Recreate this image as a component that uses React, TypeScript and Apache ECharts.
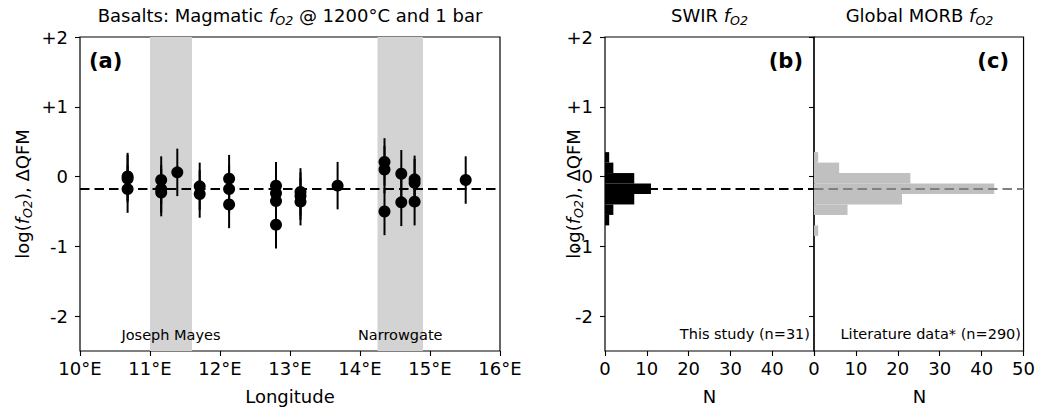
import React, { useEffect, useRef } from "react";
import * as echarts from "echarts";

// ---- data ----
const LON = [10.68, 10.68, 10.68, 11.16, 11.16, 11.16, 11.39, 11.71, 11.71, 12.13, 12.13, 12.13, 12.8, 12.8, 12.8, 12.8, 13.15, 13.15, 13.15, 13.68, 14.35, 14.35, 14.35, 14.59, 14.59, 14.78, 14.78, 14.78, 15.51];
const DQFM = [0.0, -0.03, -0.18, -0.05, -0.18, -0.23, 0.06, -0.14, -0.25, -0.03, -0.18, -0.4, -0.13, -0.24, -0.35, -0.69, -0.22, -0.28, -0.36, -0.13, 0.21, 0.1, -0.5, 0.04, -0.37, -0.04, -0.09, -0.36, -0.05];
const ERR = 0.34;
const MEAN = -0.18;
const BANDS = [
  { name: "Joseph Mayes", from: 11.0, to: 11.6 },
  { name: "Narrowgate", from: 14.25, to: 14.9 },
];
const BIN_EDGES = [-0.85, -0.7, -0.55, -0.4, -0.25, -0.1, 0.05, 0.2, 0.35];
const SWIR_COUNTS = [0, 1, 2, 7, 11, 7, 2, 1];
const MORB_COUNTS = [1, 0, 8, 21, 43, 23, 6, 1];
const Y_TICKS = [-2, -1, 0, 1, 2];
const Y_TICK_LABELS = ["-2", "-1", "0", "+1", "+2"];
const LON_TICKS = [10, 11, 12, 13, 14, 15, 16];
const N_TICKS = [0, 10, 20, 30, 40, 50];

const FONT = "DejaVu Sans";
const FS = 18;
const FS_SMALL = 14.5;

const richF = {
  i: { fontStyle: "italic", fontSize: FS, fontFamily: FONT, color: "#000", lineHeight: 22, verticalAlign: "middle" },
  s: { fontStyle: "italic", fontSize: 12.6, fontFamily: FONT, color: "#000", lineHeight: 12, verticalAlign: "bottom", padding: [0, 0, -1, 0] },
  n: { fontSize: FS, fontFamily: FONT, color: "#000", lineHeight: 22, verticalAlign: "middle" },
};

export default function App() {
  const ref = useRef<HTMLDivElement>(null);
  useEffect(() => {
    const chart = echarts.init(ref.current!, null, { renderer: "svg" });
    const bins = (counts: number[]) =>
      counts.map((c, k) => [BIN_EDGES[k], BIN_EDGES[k + 1], c]);
    const pts = LON.map((x, k) => [x, DQFM[k]]);

    const yAxisBase = (gridIndex: number, showLabels: boolean) => ({
      type: "value",
      gridIndex,
      min: -2.5,
      max: 2,
      axisLine: { show: false, onZero: false },
      splitLine: { show: false },
      axisTick: { show: true, length: 5, customValues: Y_TICKS, lineStyle: { color: "#000", width: 1.1 } },
      axisLabel: {
        show: showLabels,
        customValues: Y_TICKS,
        margin: 12,
        color: "#000",
        fontFamily: FONT,
        fontSize: FS,
        formatter: (v: number) => Y_TICK_LABELS[Y_TICKS.indexOf(Math.round(v))] ?? "",
      },
    });

    const histRender = (fill: string) => (params: any, api: any) => {
      const lo = api.value(0), hi = api.value(1), n = api.value(2);
      if (!n) return null;
      const p1 = api.coord([0, hi]);
      const p2 = api.coord([n, lo]);
      return {
        type: "rect",
        shape: { x: p1[0], y: p1[1], width: p2[0] - p1[0], height: p2[1] - p1[1] },
        style: { fill },
      };
    };

    const dashed = (color: string) => ({
      type: [9.5, 5],
      width: 2.2,
      color,
    });

    const yLabel = (x: number) => ({
      type: "text",
      x,
      y: 194,
      rotation: Math.PI / 2,
      style: {
        text: "{n|log(}{i|f}{s|O2}{n|), ΔQFM}",
        rich: richF,
        align: "center",
        verticalAlign: "middle",
      },
    });
    const plain = (text: string, x: number, y: number, align = "center", size = FS, weight = "normal") => ({
      type: "text",
      x,
      y,
      style: { text, fontFamily: FONT, fontSize: size, fontWeight: weight, fill: "#000", align, verticalAlign: "middle" },
    });
    const richTitle = (text: string, x: number) => ({
      type: "text",
      x,
      y: 15,
      style: { text, rich: richF, align: "center", verticalAlign: "middle" },
    });
    const xAxisBase = (gridIndex: number, max: number, extra: any) => ({
      type: "value", gridIndex, min: gridIndex === 0 ? 10 : 0, max, interval: gridIndex === 0 ? 1 : 10,
      axisLine: { show: false, onZero: false }, splitLine: { show: false },
      axisTick: { show: true, length: 5, lineStyle: { color: "#000", width: 1.1 } },
      axisLabel: { margin: 8, color: "#000", fontFamily: FONT, fontSize: FS, ...extra },
    });

    chart.setOption({
      animation: false,
      textStyle: { fontFamily: FONT },
      grid: [
        { left: 80, top: 37, width: 420, height: 314, show: true, borderColor: "#000", borderWidth: 1.2, backgroundColor: "transparent" },
        { left: 605, top: 37, width: 209, height: 314, show: true, borderColor: "#000", borderWidth: 1.2, backgroundColor: "transparent" },
        { left: 814, top: 37, width: 211, height: 314, show: true, borderColor: "#000", borderWidth: 1.2, backgroundColor: "transparent" },
      ],
      xAxis: [
        xAxisBase(0, LON_TICKS[LON_TICKS.length - 1], { formatter: (v: number) => `${v}°E` }),
        xAxisBase(1, N_TICKS[N_TICKS.length - 1], { formatter: (v: number) => (v === N_TICKS[N_TICKS.length - 1] ? "" : String(v)) }),
        xAxisBase(2, N_TICKS[N_TICKS.length - 1], {}),
      ],
      yAxis: [yAxisBase(0, true), yAxisBase(1, true), yAxisBase(2, false)],
      series: [
        {
          type: "line", xAxisIndex: 0, yAxisIndex: 0, data: [], z: 1,
          markArea: {
            silent: true,
            itemStyle: { color: "#d3d3d3" },
            label: { show: true, position: "insideBottom", distance: 9, color: "#000", fontFamily: FONT, fontSize: FS_SMALL },
            data: BANDS.map((b) => [{ name: b.name, xAxis: b.from }, { xAxis: b.to }]),
          },
        },
        {
          type: "line", xAxisIndex: 0, yAxisIndex: 0, data: [], z: 2,
          markLine: { silent: true, symbol: "none", label: { show: false }, lineStyle: dashed("#000"), data: [{ yAxis: MEAN }] },
        },
        {
          type: "custom", xAxisIndex: 0, yAxisIndex: 0, z: 3,
          data: pts,
          renderItem: (params: any, api: any) => {
            const x = api.value(0), y = api.value(1);
            const a = api.coord([x, y - ERR]);
            const b = api.coord([x, y + ERR]);
            return { type: "line", shape: { x1: a[0], y1: a[1], x2: b[0], y2: b[1] }, style: { stroke: "#000", lineWidth: 2 } };
          },
        },
        {
          type: "scatter", xAxisIndex: 0, yAxisIndex: 0, z: 4,
          data: pts, symbolSize: 12, itemStyle: { color: "#000", opacity: 1 },
        },
        {
          type: "line", xAxisIndex: 1, yAxisIndex: 1, data: [], z: 1,
          markLine: { silent: true, symbol: "none", label: { show: false }, lineStyle: dashed("#000"), data: [{ yAxis: MEAN }] },
        },
        {
          type: "custom", xAxisIndex: 1, yAxisIndex: 1, z: 3,
          data: bins(SWIR_COUNTS), encode: { x: 2, y: [0, 1] },
          renderItem: histRender("#000"),
        },
        {
          type: "line", xAxisIndex: 2, yAxisIndex: 2, data: [], z: 1,
          markLine: { silent: true, symbol: "none", label: { show: false }, lineStyle: dashed("#808080"), data: [{ yAxis: MEAN }] },
        },
        {
          type: "custom", xAxisIndex: 2, yAxisIndex: 2, z: 3,
          data: bins(MORB_COUNTS), encode: { x: 2, y: [0, 1] },
          renderItem: histRender("#c0c0c0"),
        },
      ],
      graphic: [
        richTitle("{n|Basalts: Magmatic }{i|f}{s|O2}{n| @ 1200°C and 1 bar}", 290),
        richTitle("{n|SWIR }{i|f}{s|O2}", 709.5),
        richTitle("{n|Global MORB }{i|f}{s|O2}", 919.5),
        yLabel(22),
        yLabel(573),
        plain("(a)", 89, 61, "left", 21, "bold"),
        plain("(b)", 803, 61, "right", 21, "bold"),
        plain("(c)", 1009, 61, "right", 21, "bold"),
        plain("Longitude", 290, 396),
        plain("N", 709.5, 396),
        plain("N", 919.5, 396),
        plain("This study (n=31)", 810, 334, "right", FS_SMALL),
        plain("Literature data* (n=290)", 1021, 334, "right", FS_SMALL),
      ],
    });
    return () => chart.dispose();
  }, []);
  return <div ref={ref} style={{ position: "fixed", left: 0, top: 0, width: 1038, height: 410, background: "#fff" }} />;
}
